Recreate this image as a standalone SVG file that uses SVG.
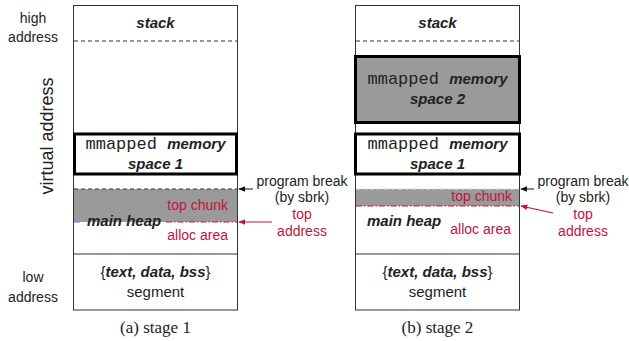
<svg xmlns="http://www.w3.org/2000/svg" width="629" height="341" viewBox="0 0 629 341">
<defs>
<style>
.t{font-family:"Liberation Sans",Arial,sans-serif;font-size:14px;fill:#222}
.r{fill:#c0143c}
.bi{font-weight:bold;font-style:italic}
.mono{font-family:"Liberation Mono","Courier New",monospace;font-size:17px;fill:#222}
.cap{font-family:"Liberation Serif","Times New Roman",serif;font-size:17px;fill:#222}
.col{fill:#fff;stroke:#333;stroke-width:1}
.thick{fill:#fff;stroke:#000;stroke-width:3}
.gray{fill:#9a9a9a}
.dash{stroke:#333;stroke-width:1;stroke-dasharray:4 3;fill:none}
.dashw{stroke:#ddd;stroke-width:1;stroke-dasharray:4 3;fill:none}
.dd{stroke:#c0143c;stroke-width:1.2;stroke-dasharray:6 2 1.5 2;fill:none}
.ln{stroke:#333;stroke-width:1;fill:none}
</style>
<marker id="ab" viewBox="0 0 10 10" refX="9" refY="5" markerWidth="7" markerHeight="7" orient="auto-start-reverse" markerUnits="userSpaceOnUse"><path d="M0,1 L10,5 L0,9 z" fill="#111"/></marker>
<marker id="ar" viewBox="0 0 10 10" refX="9" refY="5" markerWidth="7" markerHeight="7" orient="auto-start-reverse" markerUnits="userSpaceOnUse"><path d="M0,1 L10,5 L0,9 z" fill="#c0143c"/></marker>
</defs>

<!-- axis labels -->
<g id="axis">
<text class="t" x="33" y="23" text-anchor="middle">high</text>
<text class="t" x="33" y="42" text-anchor="middle">address</text>
<text class="t" x="33" y="282" text-anchor="middle">low</text>
<text class="t" x="33" y="302" text-anchor="middle">address</text>
<text class="t" x="0" y="0" text-anchor="middle" style="font-size:18px" transform="translate(53,136) rotate(-90)">virtual address</text>
</g>

<!-- stage 1 -->
<g id="stage1">
<rect class="col" x="73.5" y="5.5" width="164" height="304.5"/>
<rect class="gray" x="74" y="189" width="163" height="33"/>
<line class="dash" x1="74" y1="41" x2="237" y2="41"/>
<line class="dash" x1="74" y1="189" x2="237" y2="189"/>
<line class="ln" x1="73.5" y1="254" x2="237.5" y2="254"/>
<line x1="74" y1="222" x2="80" y2="222" stroke="#5b9bd5" stroke-width="1.2"/>
<line class="dd" x1="166" y1="222" x2="237" y2="222"/>
</g>
<g id="stack1"><text class="t bi" x="155.5" y="28" text-anchor="middle" style="font-size:15px">stack</text></g>
<g id="mmap1a">
<rect class="thick" x="74.5" y="134" width="162" height="40"/>
<text x="155.5" y="149" text-anchor="middle"><tspan class="mono">mmapped </tspan><tspan class="t bi" style="font-size:15px">memory</tspan></text>
<text class="t bi" x="155.5" y="169" text-anchor="middle" style="font-size:15px">space 1</text>
</g>
<g id="heap1">
<text class="t bi" x="87" y="226" style="font-size:15px">main heap</text>
<text class="t r" x="228" y="210" text-anchor="end">top chunk</text>
<text class="t r" x="228" y="240" text-anchor="end">alloc area</text>
</g>
<g id="seg1">
<text class="t" x="155.5" y="277" text-anchor="middle" style="font-size:15px">{<tspan class="bi">text, data, bss</tspan>}</text>
<text class="t" x="155.5" y="297" text-anchor="middle" style="font-size:15px">segment</text>
</g>
<g id="lbl1">
<text class="t" x="302" y="186" text-anchor="middle">program break</text>
<text class="t" x="302" y="202" text-anchor="middle">(by sbrk)</text>
<text class="t r" x="302" y="219" text-anchor="middle">top</text>
<text class="t r" x="302" y="236" text-anchor="middle">address</text>
</g>
<text class="cap" x="155.5" y="333" text-anchor="middle">(a) stage 1</text>

<!-- stage 2 -->
<g id="stage2">
<rect class="col" x="355.5" y="5.5" width="164" height="304.5"/>
<rect class="gray" x="356" y="189" width="163" height="17"/>
<line class="dash" x1="356" y1="41" x2="519" y2="41"/>
<line class="dashw" x1="356" y1="189" x2="519" y2="189"/>
<line class="ln" x1="355.5" y1="254" x2="519.5" y2="254"/>
<line class="dd" x1="356" y1="206" x2="519" y2="206"/>
</g>
<g id="stack2"><text class="t bi" x="437.5" y="28" text-anchor="middle" style="font-size:15px">stack</text></g>
<g id="mmap2">
<rect class="thick" x="355.5" y="56.5" width="164" height="66" style="fill:#9a9a9a"/>
<text x="437.5" y="84" text-anchor="middle"><tspan class="mono">mmapped </tspan><tspan class="t bi" style="font-size:15px">memory</tspan></text>
<text class="t bi" x="437.5" y="104" text-anchor="middle" style="font-size:15px">space 2</text>
</g>
<g id="mmap1b">
<rect class="thick" x="355.5" y="134" width="164" height="40"/>
<text x="437.5" y="149" text-anchor="middle"><tspan class="mono">mmapped </tspan><tspan class="t bi" style="font-size:15px">memory</tspan></text>
<text class="t bi" x="437.5" y="169" text-anchor="middle" style="font-size:15px">space 1</text>
</g>
<g id="heap2">
<text class="t bi" x="367" y="226" style="font-size:15px">main heap</text>
<text class="t r" x="512" y="201" text-anchor="end">top chunk</text>
<text class="t r" x="511" y="234" text-anchor="end">alloc area</text>
</g>
<g id="seg2">
<text class="t" x="437.5" y="277" text-anchor="middle" style="font-size:15px">{<tspan class="bi">text, data, bss</tspan>}</text>
<text class="t" x="437.5" y="297" text-anchor="middle" style="font-size:15px">segment</text>
</g>
<g id="lbl2">
<text class="t" x="583" y="186" text-anchor="middle">program break</text>
<text class="t" x="583" y="202" text-anchor="middle">(by sbrk)</text>
<text class="t r" x="583" y="219" text-anchor="middle">top</text>
<text class="t r" x="583" y="236" text-anchor="middle">address</text>
</g>
<text class="cap" x="437.5" y="333" text-anchor="middle">(b) stage 2</text>

<!-- connectors -->
<g id="connectors">
<line x1="253" y1="189" x2="239" y2="189" stroke="#111" stroke-width="1" marker-end="url(#ab)"/>
<line x1="272" y1="222" x2="239" y2="222" stroke="#c0143c" stroke-width="1.2" marker-end="url(#ar)"/>
<line x1="534" y1="189" x2="521" y2="189" stroke="#111" stroke-width="1" marker-end="url(#ab)"/>
<line x1="553" y1="213" x2="521" y2="206" stroke="#c0143c" stroke-width="1.2" marker-end="url(#ar)"/>
</g>
</svg>
